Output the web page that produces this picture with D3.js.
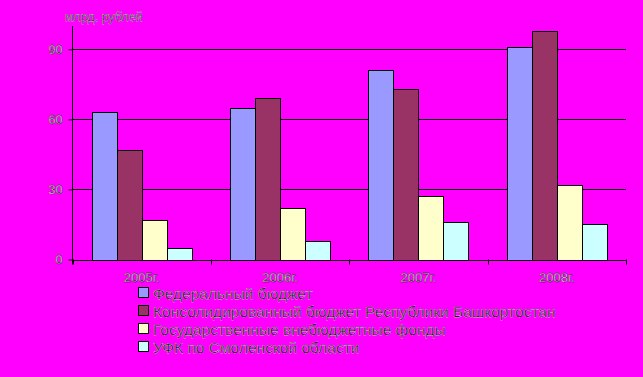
<!DOCTYPE html>
<html><head><meta charset="utf-8">
<script src="https://cdn.jsdelivr.net/npm/d3@7"></script>
<style>
html,body{margin:0;padding:0;background:#FF00FF;}
svg{display:block;font-family:"Liberation Sans",Arial,sans-serif;}
</style></head>
<body>
<svg id="c" width="643" height="377"></svg>
<script>
const categories = ["2005г.","2006г.","2007г.","2008г."];
const seriesNames = ["Федеральный бюджет","Консолидированный бюджет Республики Башкортостан","Государственные внебюджетные фонды","УФК по Смоленской области"];
const federal = [63, 65, 81, 91];
const consolidated = [47, 69, 73, 98];
const funds = [17, 22, 27, 32];
const ufk = [5, 8, 16, 15];
const yTicks = [0, 30, 60, 90];
const yLabel = "млрд. рублей";
const colors = ["#9999FF","#993366","#FFFFCC","#CCFFFF"];

(function(){
const series = [federal, consolidated, funds, ufk];
const svg = d3.select("#c");
const pLeft = 72.5, pRight = 626, pTop = 26, pBottom = 259.5;

const x = d3.scaleBand().domain(categories).range([pLeft, pRight]).paddingInner(0.278).paddingOuter(0.139);
const xs = d3.scaleBand().domain(d3.range(series.length)).range([0, x.bandwidth()]);
const y = d3.scaleLinear().domain([0, 100]).range([pBottom, pTop]);

// gridlines
svg.append("g").selectAll("line").data(yTicks.filter(d=>d>0)).join("line")
  .attr("x1", pLeft).attr("x2", pRight)
  .attr("y1", d=>Math.round(y(d))+0.5).attr("y2", d=>Math.round(y(d))+0.5)
  .attr("stroke","#000").attr("stroke-width",1);

// bars
const g = svg.append("g");
categories.forEach((c, i) => {
  series.forEach((s, j) => {
    g.append("rect")
      .attr("x", Math.round(x(c) + xs(j)) + 0.5)
      .attr("y", Math.round(y(s[i])) + 0.5)
      .attr("width", Math.round(xs.bandwidth()))
      .attr("height", Math.round(y(0)) - Math.round(y(s[i])))
      .attr("fill", colors[j]).attr("stroke", "#000").attr("stroke-width", 1);
  });
});

// y axis
const yAxis = d3.axisLeft(y).tickValues(yTicks).tickSize(4).tickPadding(6);
const ya = svg.append("g").attr("transform", `translate(${pLeft},0)`).call(yAxis);
ya.select(".domain").remove();
ya.append("line").attr("x1",0).attr("x2",0).attr("y1",pTop).attr("y2",pBottom+5).attr("stroke","#000");
ya.selectAll(".tick line").attr("stroke","#000");
ya.selectAll(".tick text").attr("font-size", 12.5).attr("font-family","\"Liberation Sans\",Arial,sans-serif")
  .attr("fill","#f8f8f8").attr("stroke","#111").attr("stroke-width",0.4);

// x axis
const xa = svg.append("g");
xa.append("line").attr("x1", pLeft).attr("x2", pRight).attr("y1", Math.round(pBottom)+0.5).attr("y2", Math.round(pBottom)+0.5).attr("stroke","#000");
const bounds = categories.map(c => x(c) - x.step()*x.paddingInner()/2).concat([pRight]);
bounds[0] = pLeft;
xa.selectAll("line.t").data(bounds).join("line").attr("class","t")
  .attr("x1", d=>Math.round(d)+0.5).attr("x2", d=>Math.round(d)+0.5)
  .attr("y1", pBottom).attr("y2", pBottom+5).attr("stroke","#000");
xa.selectAll("text").data(categories).join("text")
  .attr("x", d => x(d) + x.bandwidth()/2).attr("y", 282)
  .attr("text-anchor","middle").attr("font-size", 13)
  .attr("fill","#f8f8f8").attr("stroke","#111").attr("stroke-width",0.4)
  .text(d=>d);

// y label
svg.append("text").attr("x", 65).attr("y", 21).attr("font-size", 12.5)
  .attr("fill","#111").attr("stroke","#fff").attr("stroke-width",0.25).text(yLabel);

// legend
const lg = svg.append("g");
seriesNames.forEach((n, j) => {
  const cy = 293 + j*18;
  lg.append("rect").attr("x", 138.5).attr("y", cy-5.5).attr("width", 10).attr("height", 10)
    .attr("fill", colors[j]).attr("stroke","#000");
  lg.append("text").attr("x", 153).attr("y", cy+6).attr("font-size", 15.5)
    .attr("fill","#111").attr("stroke","#fff").attr("stroke-width",0.25).text(n);
});
})();
</script>
</body></html>
